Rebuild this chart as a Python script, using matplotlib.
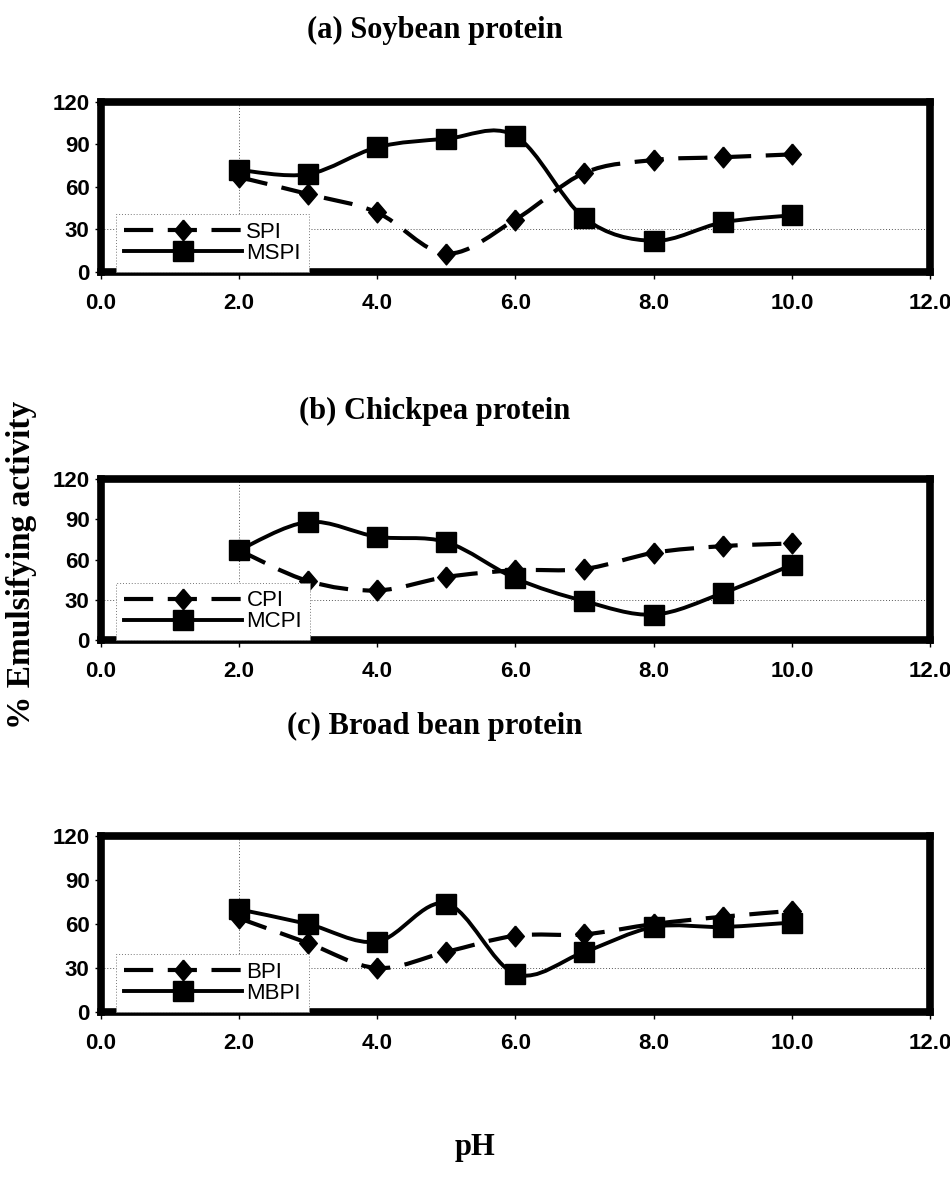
import matplotlib
matplotlib.use("Agg")
import matplotlib.pyplot as plt
from matplotlib.path import Path
from matplotlib.patches import PathPatch

# ---------------- data ----------------
ph = [2, 3, 4, 5, 6, 7, 8, 9, 10]

spi = [67, 55, 42, 13, 37, 70, 79, 81, 83]
mspi = [72, 69, 88, 94, 96, 38, 22, 35, 40]

cpi = [67, 44, 37, 47, 52, 53, 65, 70, 72]
mcpi = [67, 88, 77, 73, 46, 29, 19, 35, 56]

bpi = [64, 47, 30, 41, 52, 53, 60, 65, 69]
mbpi = [70, 60, 48, 74, 26, 41, 58, 58, 61]

titles = ["(a) Soybean protein", "(b) Chickpea protein", "(c) Broad bean protein"]
labels = [("SPI", "MSPI"), ("CPI", "MCPI"), ("BPI", "MBPI")]
series = [(spi, mspi), (cpi, mcpi), (bpi, mbpi)]

x_ticks = [0, 2, 4, 6, 8, 10, 12]
y_ticks = [0, 30, 60, 90, 120]

serif = "Liberation Serif"
sans = "Liberation Sans"

# excel diamond is a bit taller than wide
diamond = [(0, 1), (0.85, 0), (0, -1), (-0.85, 0), (0, 1)]


def smooth_path(xs, ys):
    # excel style smoothed line: bezier segments through every point
    pts = list(zip(xs, ys))
    n = len(pts)
    verts = [pts[0]]
    codes = [Path.MOVETO]
    for i in range(n - 1):
        p0 = pts[i - 1] if i > 0 else pts[i]
        p1 = pts[i]
        p2 = pts[i + 1]
        p3 = pts[i + 2] if i + 2 < n else pts[i + 1]
        c1 = (p1[0] + (p2[0] - p0[0]) / 6, p1[1] + (p2[1] - p0[1]) / 6)
        c2 = (p2[0] - (p3[0] - p1[0]) / 6, p2[1] - (p3[1] - p1[1]) / 6)
        verts += [c1, c2, p2]
        codes += [Path.CURVE4, Path.CURVE4, Path.CURVE4]
    return Path(verts, codes)


fig = plt.figure(figsize=(9.5, 11.79), dpi=100)

# axes boxes in figure fractions (left, bottom, width, height)
boxes = [
    (0.106, 0.7693, 0.873, 0.1442),
    (0.106, 0.4571, 0.873, 0.1366),
    (0.106, 0.1416, 0.873, 0.1493),
]
title_y = [1 - 30 / 1179, 1 - 411 / 1179, 1 - 726 / 1179]

dash = (0, (7, 3.5))

for k in range(3):
    ax = fig.add_axes(boxes[k])
    base, mod = series[k]
    lab_b, lab_m = labels[k]

    # faint dotted guide lines seen in the scan
    ax.axhline(30, color="#555555", lw=0.7, ls=(0, (1, 2)), zorder=1)
    ax.axvline(2, color="#555555", lw=0.7, ls=(0, (1, 2)), zorder=1)

    pp = PathPatch(smooth_path(ph, mod), fill=False, lw=2.8, color="black",
                   zorder=3)
    ax.add_patch(pp)
    pb = PathPatch(smooth_path(ph, base), fill=False, lw=3.0, color="black",
                   ls=dash, capstyle="butt", zorder=3)
    ax.add_patch(pb)

    ax.plot(ph, base, ls="none", marker=diamond, ms=15, color="black",
            zorder=4)
    ax.plot(ph, mod, ls="none", marker="s", ms=14.5, color="black", zorder=5)

    # legend handles with the connecting line style
    l1, = ax.plot([], [], ls=dash, lw=3.0, marker=diamond, ms=15,
                  color="black", dash_capstyle="butt")
    l2, = ax.plot([], [], ls="-", lw=2.8, marker="s", ms=14.5, color="black")
    leg = ax.legend([l1, l2], [lab_b, lab_m], loc="lower left",
                    bbox_to_anchor=(0.019, 0.0), numpoints=1,
                    handlelength=5.3, handletextpad=0.2, labelspacing=0.0,
                    borderpad=0.35, borderaxespad=0.0, fancybox=False,
                    framealpha=1, edgecolor="#777777",
                    prop={"family": sans, "size": 16})
    leg.get_frame().set_linewidth(0.7)
    leg.get_frame().set_linestyle((0, (1, 2)))
    leg.set_zorder(6)

    ax.set_xlim(0, 12)
    ax.set_ylim(0, 120)
    ax.set_xticks(x_ticks)
    ax.set_xticklabels(["%.1f" % v for v in x_ticks])
    ax.set_yticks(y_ticks)
    for sp in ax.spines.values():
        sp.set_linewidth(5.5)
    ax.tick_params(axis="x", direction="out", length=5, width=1, pad=10,
                   labelsize=16)
    ax.tick_params(axis="y", direction="out", length=4, width=1, pad=4,
                   labelsize=16)
    for t in ax.get_xticklabels() + ax.get_yticklabels():
        t.set_fontfamily(sans)
        t.set_fontweight("bold")

    fig.text(0.458, title_y[k], titles[k], ha="center", va="center",
             fontfamily=serif, fontweight="bold", fontsize=22)

fig.text(22 / 950, 1 - 565 / 1179, "% Emulsifying activity", rotation=90,
         ha="center", va="center", fontfamily=serif, fontweight="bold",
         fontsize=24)
fig.text(475 / 950, 1 - 1148 / 1179, "pH", ha="center", va="center",
         fontfamily=serif, fontweight="bold", fontsize=22)

fig.savefig("out.png", dpi=100)
